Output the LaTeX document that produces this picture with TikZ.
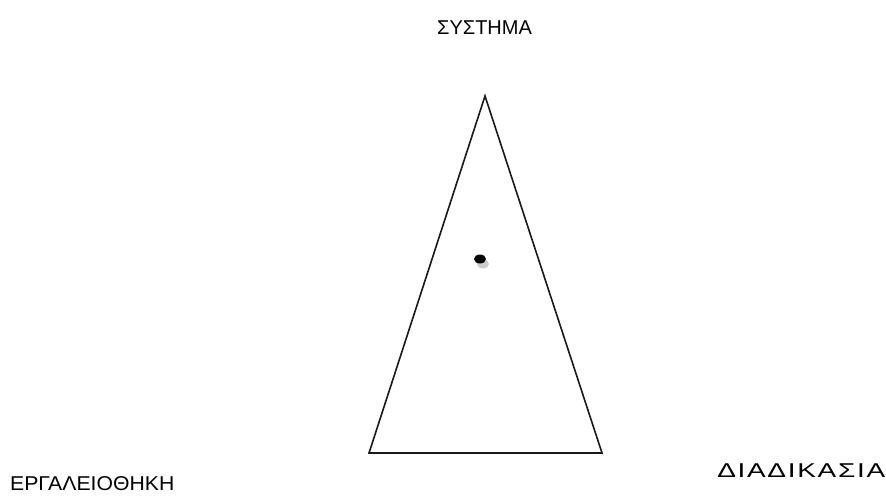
\documentclass[tikz,border=0pt]{standalone}
\usepackage{fontspec}
\setmainfont{Liberation Sans}
\begin{document}
\begin{tikzpicture}[x=1pt,y=-1pt,
  lbl/.style={font=\fontsize{20}{22}\selectfont, inner sep=0pt, anchor=base west},
  edge/.style={draw=black!90, line width=1.6pt, line join=miter}]
\useasboundingbox (0,0) rectangle (886,497);
\coordinate (top) at (485,96);
\coordinate (bl) at (369,453);
\coordinate (br) at (602,453);
\draw[edge] (top) -- (bl) -- (br) -- cycle;
\fill[black!20] (483,264) ellipse [x radius=6pt, y radius=4.5pt];
\fill[black] (480,259) ellipse [x radius=6pt, y radius=4.5pt];
\node[lbl] (sys) at (437,35) {ΣΥΣΤΗΜΑ};
\node[lbl, xscale=1.06] (tool) at (10,490) {ΕΡΓΑΛΕΙΟΘΗΚΗ};
\node[lbl, xscale=1.4] (proc) at (717,477) {\addfontfeature{LetterSpace=6}ΔΙΑΔΙΚΑΣΙΑ};
\end{tikzpicture}
\end{document}
